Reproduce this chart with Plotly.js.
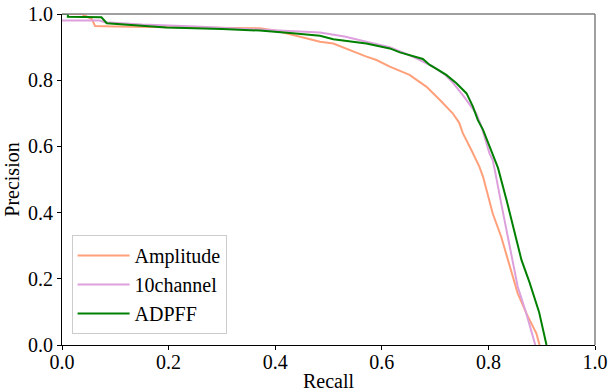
<!DOCTYPE html>
<html>
<head>
<meta charset="utf-8">
<script src="https://cdn.plot.ly/plotly-3.0.1.min.js"></script>
<style>
html,body{margin:0;padding:0;background:#fff;}
#chart{width:609px;height:392px;}
</style>
</head>
<body>
<div id="chart"></div>
<script>
// Amplitude
const ampRecall = [0, 0.037, 0.040, 0.056, 0.062, 0.10, 0.20, 0.30, 0.371, 0.40, 0.433, 0.446, 0.484, 0.509, 0.546, 0.570, 0.590, 0.615, 0.652, 0.684, 0.709, 0.733, 0.745, 0.752, 0.768, 0.783, 0.790, 0.800, 0.808, 0.824, 0.840, 0.855, 0.874, 0.890, 0.896];
const ampPrecision = [1.0, 1.0, 0.997, 0.985, 0.964, 0.962, 0.960, 0.958, 0.957, 0.950, 0.937, 0.931, 0.916, 0.911, 0.886, 0.872, 0.861, 0.841, 0.816, 0.780, 0.740, 0.700, 0.672, 0.640, 0.589, 0.539, 0.508, 0.450, 0.398, 0.327, 0.237, 0.156, 0.086, 0.035, 0.0];
// 10channel
const chRecall = [0, 0.071, 0.080, 0.15, 0.25, 0.35, 0.433, 0.446, 0.484, 0.530, 0.571, 0.615, 0.660, 0.696, 0.720, 0.734, 0.752, 0.777, 0.787, 0.795, 0.802, 0.808, 0.812, 0.824, 0.840, 0.855, 0.871, 0.888];
const chPrecision = [0.98, 0.98, 0.975, 0.968, 0.962, 0.955, 0.950, 0.947, 0.944, 0.932, 0.916, 0.900, 0.870, 0.841, 0.815, 0.791, 0.755, 0.700, 0.660, 0.620, 0.579, 0.559, 0.529, 0.428, 0.297, 0.176, 0.096, 0.0];
// ADPFF
const adRecall = [0, 0.011, 0.011, 0.074, 0.084, 0.121, 0.168, 0.196, 0.30, 0.371, 0.433, 0.446, 0.484, 0.509, 0.571, 0.615, 0.634, 0.677, 0.690, 0.705, 0.721, 0.740, 0.759, 0.771, 0.780, 0.790, 0.802, 0.818, 0.834, 0.846, 0.852, 0.862, 0.877, 0.895, 0.909];
const adPrecision = [1.0, 1.0, 0.992, 0.990, 0.972, 0.967, 0.962, 0.959, 0.955, 0.950, 0.942, 0.940, 0.934, 0.924, 0.911, 0.896, 0.884, 0.864, 0.846, 0.832, 0.816, 0.791, 0.760, 0.720, 0.680, 0.650, 0.600, 0.535, 0.438, 0.357, 0.317, 0.257, 0.190, 0.100, 0.0];

const tickVals = [0, 0.2, 0.4, 0.6, 0.8, 1.0];
const tickText = ['0.0', '0.2', '0.4', '0.6', '0.8', '1.0'];

const FONT = 'Liberation Serif';
const SZ = 20;

const traces = [
  {x: ampRecall, y: ampPrecision, name: 'Amplitude', mode: 'lines', line: {color: '#FFA07A', width: 2}},
  {x: chRecall, y: chPrecision, name: '10channel', mode: 'lines', line: {color: '#DDA0DD', width: 2}},
  {x: adRecall, y: adPrecision, name: 'ADPFF', mode: 'lines', line: {color: '#008000', width: 2}}
];

const layout = {
  width: 609, height: 392,
  margin: {l: 62, r: 13.5, t: 14, b: 47},
  paper_bgcolor: '#fff', plot_bgcolor: '#fff',
  font: {family: FONT, size: SZ, color: '#000'},
  showlegend: true,
  legend: {
    x: 0.018, y: 0.033, xanchor: 'left', yanchor: 'bottom',
    bgcolor: 'rgba(255,255,255,0.8)', bordercolor: '#cccccc', borderwidth: 1,
    itemwidth: 52,
    font: {family: FONT, size: SZ, color: '#000'}
  },
  xaxis: {
    range: [0, 1], tickvals: tickVals, ticktext: tickText,
    tickfont: {family: FONT, size: SZ, color: '#000'},
    ticklabelstandoff: -5,
    showgrid: false, zeroline: false, showline: true, linecolor: '#000', linewidth: 1,
    ticks: 'outside', ticklen: 4, tickcolor: '#000',
    mirror: false,
    title: {text: 'Recall', font: {family: FONT, size: SZ}, standoff: 6}
  },
  yaxis: {
    range: [0, 1], tickvals: tickVals, ticktext: tickText,
    tickfont: {family: FONT, size: SZ, color: '#000'},
    showgrid: false, zeroline: false, showline: true, linecolor: '#000', linewidth: 1,
    ticks: 'outside', ticklen: 4, tickcolor: '#000',
    title: {text: 'Precision', font: {family: FONT, size: SZ}, standoff: 3}
  },
  shapes: [
    {type: 'line', xref: 'paper', yref: 'paper', x0: 0, x1: 1, y0: 1, y1: 1, line: {color: '#808080', width: 1.5}},
    {type: 'line', xref: 'paper', yref: 'paper', x0: 1, x1: 1, y0: 0, y1: 1, line: {color: '#808080', width: 1.5}}
  ]
};

Plotly.newPlot('chart', traces, layout, {displayModeBar: false, staticPlot: true});
</script>
</body>
</html>
